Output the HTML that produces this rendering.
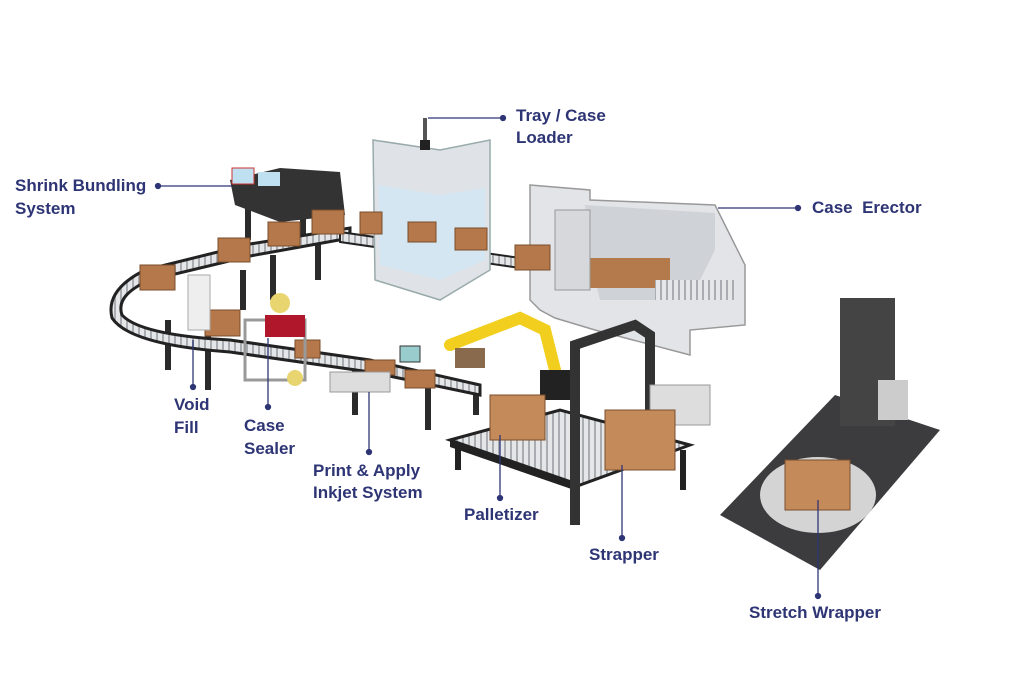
<!DOCTYPE html>
<html><head><meta charset="utf-8"><style>
html,body{margin:0;padding:0;background:#fff}
svg{display:block}
text{font-family:"Liberation Sans",sans-serif;font-weight:bold;font-size:17px;fill:#2e3575}
</style></head><body>
<svg width="1024" height="683" viewBox="0 0 1024 683">
<defs>
<pattern id="rol" width="6" height="6" patternUnits="userSpaceOnUse"><rect width="6" height="6" fill="#e4e6e8"/><rect width="2" height="6" fill="#a9adb2"/></pattern>
</defs>
<!-- conveyor legs -->
<g fill="#2b2b2b">
<rect x="165" y="320" width="6" height="50"/><rect x="205" y="330" width="6" height="60"/><rect x="240" y="270" width="6" height="40"/><rect x="270" y="255" width="6" height="45"/><rect x="315" y="240" width="6" height="40"/><rect x="352" y="360" width="6" height="55"/><rect x="425" y="380" width="6" height="50"/><rect x="473" y="385" width="6" height="30"/>
<rect x="245" y="200" width="6" height="40"/><rect x="300" y="205" width="6" height="35"/>
</g>
<!-- main curved conveyor -->
<path d="M350 238 L250 256 L150 280 Q115 295 122 315 Q140 335 230 340 L370 360 L480 385 L480 395 L370 372 L230 352 Q130 345 112 318 Q105 290 145 270 L250 244 L350 228 Z" fill="url(#rol)" stroke="#222" stroke-width="3"/>
<!-- upper conveyor to loader & erector -->
<path d="M340 232 L520 258 L600 268 L600 278 L520 268 L340 242 Z" fill="url(#rol)" stroke="#222" stroke-width="2"/>
<!-- shrink bundler -->
<polygon points="230,180 280,168 340,172 345,215 280,222 235,205" fill="#333"/>
<rect x="232" y="168" width="22" height="16" fill="#bfe0f0" stroke="#c33" stroke-width="1"/>
<rect x="258" y="172" width="22" height="14" fill="#bfe0f0"/>
<!-- tray/case loader -->
<polygon points="373,140 440,150 490,140 490,270 440,300 375,280" fill="#dfe3e8" stroke="#9aa" stroke-width="1.5"/>
<polygon points="378,185 440,195 485,188 485,260 440,280 380,265" fill="#cfe6f2" opacity=".8"/>
<line x1="425" y1="118" x2="425" y2="145" stroke="#555" stroke-width="4"/>
<rect x="420" y="140" width="10" height="10" fill="#222"/>
<!-- case erector -->
<polygon points="530,185 590,190 590,200 715,205 720,215 745,265 745,325 690,330 690,355 595,330 555,318 540,310 530,300" fill="#e2e4e7" stroke="#999" stroke-width="1.5"/>
<polygon points="585,205 715,213 715,250 690,300 600,300 590,260" fill="#cfd3d8"/>
<rect x="590" y="258" width="80" height="30" fill="#b57a4c"/>
<rect x="655" y="280" width="80" height="20" fill="url(#rol)"/>
<rect x="555" y="210" width="35" height="80" fill="#d6d8db" stroke="#999"/>
<!-- boxes -->
<g fill="#b5784a" stroke="#7a4e2c" stroke-width="1">
<rect x="140" y="265" width="35" height="25"/><rect x="218" y="238" width="32" height="24"/><rect x="268" y="222" width="32" height="24"/><rect x="312" y="210" width="32" height="24"/><rect x="360" y="212" width="22" height="22"/><rect x="408" y="222" width="28" height="20"/><rect x="455" y="228" width="32" height="22"/><rect x="515" y="245" width="35" height="25"/><rect x="205" y="310" width="35" height="26"/><rect x="295" y="340" width="25" height="18"/><rect x="365" y="360" width="30" height="15"/><rect x="405" y="370" width="30" height="18"/>
</g>
<!-- void fill / sealer / inkjet -->
<rect x="188" y="275" width="22" height="55" fill="#eee" stroke="#aaa"/>
<rect x="245" y="320" width="60" height="60" fill="none" stroke="#999" stroke-width="3"/>
<rect x="265" y="315" width="40" height="22" fill="#b0172a"/>
<circle cx="280" cy="303" r="10" fill="#e8d570"/>
<circle cx="295" cy="378" r="8" fill="#e8d570"/>
<rect x="330" y="372" width="60" height="20" fill="#ddd" stroke="#999"/>
<rect x="400" y="346" width="20" height="16" fill="#9cc" stroke="#333"/>
<!-- palletizer -->
<polygon points="450,440 560,410 690,445 580,485" fill="url(#rol)" stroke="#222" stroke-width="3"/>
<polygon points="450,440 580,485 580,492 450,447" fill="#222"/>
<rect x="455" y="445" width="6" height="25" fill="#222"/><rect x="680" y="450" width="6" height="40" fill="#222"/>
<path d="M450 345 L520 318 L545 330 L555 370" stroke="#f2cf1e" stroke-width="12" fill="none" stroke-linecap="round"/>
<rect x="540" y="370" width="30" height="30" fill="#222"/>
<rect x="455" y="348" width="30" height="20" fill="#8a6a4c"/>
<!-- strapper -->
<path d="M575 525 L575 345 L635 325 L650 335 L650 410" stroke="#333" stroke-width="10" fill="none"/>
<rect x="650" y="385" width="60" height="40" fill="#ddd" stroke="#999"/>
<rect x="490" y="395" width="55" height="45" fill="#c48a5a" stroke="#7a4e2c"/>
<rect x="605" y="410" width="70" height="60" fill="#c48a5a" stroke="#7a4e2c"/>
<!-- stretch wrapper -->
<polygon points="720,515 835,395 940,430 820,570" fill="#3c3c3e"/>
<ellipse cx="818" cy="495" rx="58" ry="38" fill="#d4d4d4"/>
<rect x="840" y="298" width="55" height="128" fill="#444"/>
<rect x="878" y="380" width="30" height="40" fill="#ccc"/>
<rect x="785" y="460" width="65" height="50" fill="#c48a5a" stroke="#7a4e2c"/>
<!-- callouts -->
<g stroke="#2e3575" stroke-width="1.3" fill="#2e3575">
<line x1="428" y1="118" x2="503" y2="118"/><circle cx="503" cy="118" r="2.5"/>
<line x1="158" y1="186" x2="232" y2="186"/><circle cx="158" cy="186" r="2.5"/>
<line x1="718" y1="208" x2="798" y2="208"/><circle cx="798" cy="208" r="2.5"/>
<line x1="193" y1="340" x2="193" y2="387"/><circle cx="193" cy="387" r="2.5"/>
<line x1="268" y1="338" x2="268" y2="407"/><circle cx="268" cy="407" r="2.5"/>
<line x1="369" y1="392" x2="369" y2="452"/><circle cx="369" cy="452" r="2.5"/>
<line x1="500" y1="435" x2="500" y2="498"/><circle cx="500" cy="498" r="2.5"/>
<line x1="622" y1="465" x2="622" y2="538"/><circle cx="622" cy="538" r="2.5"/>
<line x1="818" y1="500" x2="818" y2="596"/><circle cx="818" cy="596" r="2.5"/>
</g>
<text x="516" y="121">Tray / Case</text><text x="516" y="143">Loader</text>
<text x="15" y="191">Shrink Bundling</text><text x="15" y="214">System</text>
<text x="812" y="213" xml:space="preserve">Case  Erector</text>
<text x="174" y="410">Void</text><text x="174" y="433">Fill</text>
<text x="244" y="431">Case</text><text x="244" y="454">Sealer</text>
<text x="313" y="476">Print &amp; Apply</text><text x="313" y="498">Inkjet System</text>
<text x="464" y="520">Palletizer</text>
<text x="589" y="560">Strapper</text>
<text x="749" y="618">Stretch Wrapper</text>
</svg>
</body></html>
